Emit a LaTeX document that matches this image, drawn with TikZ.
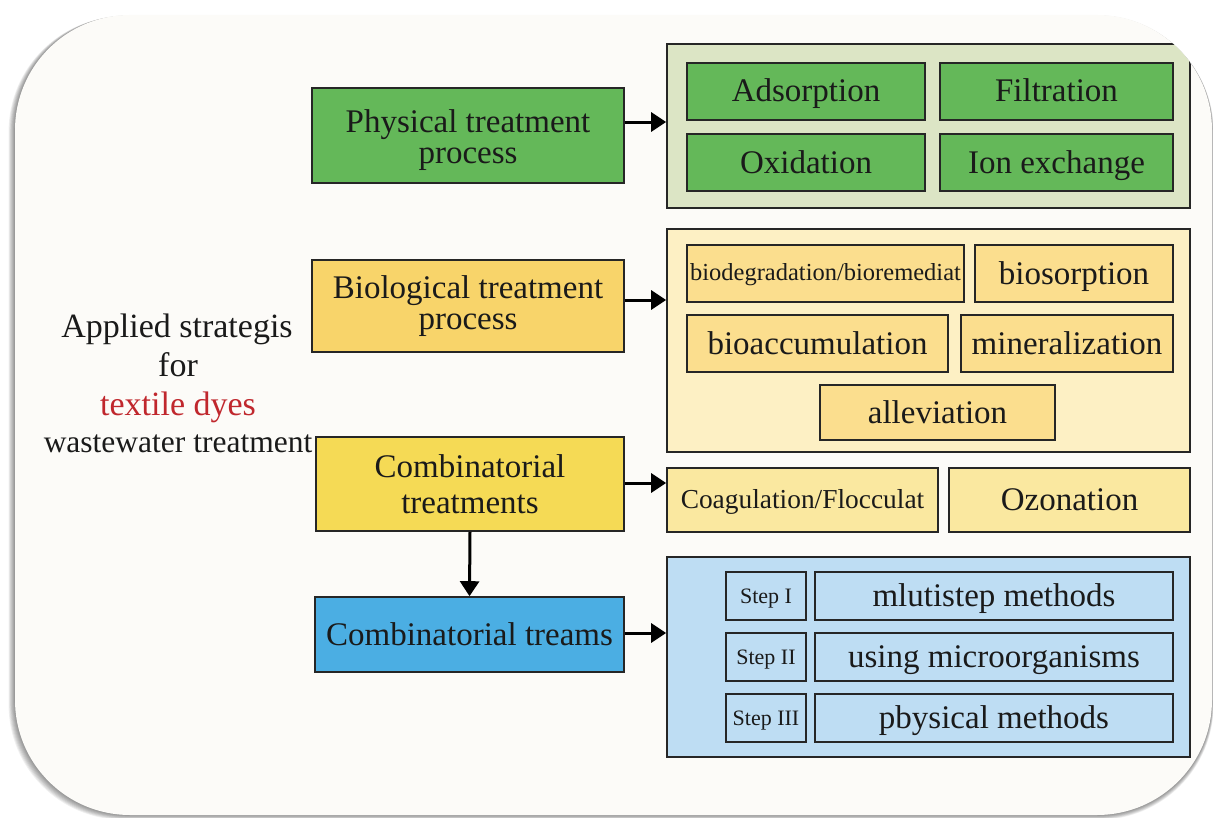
\documentclass[tikz,border=0pt]{standalone}
\usepackage{fontspec}
\setmainfont{Liberation Serif}
\usetikzlibrary{arrows.meta}
\definecolor{cardbg}{HTML}{FCFBF8}
\definecolor{grn}{HTML}{64B859}
\definecolor{grnpanel}{HTML}{DCE5C5}
\definecolor{biomain}{HTML}{F8D46A}
\definecolor{biopanel}{HTML}{FDF0C4}
\definecolor{bioinner}{HTML}{FBDE8E}
\definecolor{combmain}{HTML}{F5DA55}
\definecolor{coagfill}{HTML}{FAE8A0}
\definecolor{bluemain}{HTML}{4BAEE3}
\definecolor{bluepanel}{HTML}{BEDDF3}
\definecolor{dyered}{HTML}{C0272D}
\definecolor{ink}{HTML}{1A1A1A}
\newcommand\fsz[2]{\fontsize{#1bp}{#2bp}\selectfont}
\tikzset{
  bx/.style={draw=black!85, line width=1.6bp, inner sep=0pt, align=center, text=ink, font={\fsz{33}{31}}},
  one/.style={text height=24bp, text depth=3bp},
  panel/.style={draw=black!85, line width=1.6bp, inner sep=0pt},
  arr/.style={line width=3bp, -{Triangle[length=15bp,width=19bp]}},
  lbl/.style={anchor=base, inner sep=0pt, text=ink, font={\fsz{34}{38}}}
}
\begin{document}
\begin{tikzpicture}[x=1bp,y=-1bp]
\useasboundingbox (0,0) rectangle (1213,818);
\fill[white] (0,0) rectangle (1213,818);
% shadow
\foreach \d in {1,...,8}{
  \fill[black,opacity=0.06,rounded corners=115bp] ({15-\d*0.8},{15+\d*0.2}) rectangle ({1212+\d*0.2},{815+\d*0.6});
}
\fill[cardbg, rounded corners=115bp] (15,15) rectangle (1212,815);
\begin{scope}
\clip[rounded corners=115bp] (15,15) rectangle (1212,815);
% left title
\node[lbl] (l1) at (177,337) {Applied strategis};
\node[lbl] (l2) at (178,376) {for};
\node[lbl, text=dyered] (l3) at (178,415) {textile dyes};
\node[lbl, font={\fsz{31.5}{36}}] (l4) at (178,452) {wastewater treatment};
% main boxes
\node[bx, fill=grn, minimum width=312bp, minimum height=95bp] (phys) at (468,135.5) {\rule{0pt}{33bp}Physical treatment\\process};
\node[bx, fill=biomain, minimum width=312bp, minimum height=92bp] (bio) at (468,306) {Biological treatment\\process};
\node[bx, fill=combmain, minimum width=308bp, minimum height=94bp, font={\fsz{33}{36}}] (comb) at (470,484) {Combinatorial\\treatments};
\node[bx, one, fill=bluemain, minimum width=309bp, minimum height=75bp] (treams) at (469.5,634.5) {Combinatorial treams};
% physical panel
\node[panel, fill=grnpanel, minimum width=523bp, minimum height=164bp] (ppanel) at (928.5,126) {};
\node[bx, one, fill=grn, minimum width=238bp, minimum height=57bp] (adsorp) at (806,91.5) {Adsorption};
\node[bx, one, fill=grn, minimum width=233bp, minimum height=57bp] (filtr) at (1056.5,91.5) {Filtration};
\node[bx, one, fill=grn, minimum width=238bp, minimum height=57bp] (oxid) at (806,162.5) {Oxidation};
\node[bx, one, fill=grn, minimum width=233bp, minimum height=57bp] (ion) at (1056.5,162.5) {Ion exchange};
% biological panel
\node[panel, fill=biopanel, minimum width=523bp, minimum height=223bp] (bpanel) at (928.5,340.5) {};
\node[bx, fill=bioinner, minimum width=277bp, minimum height=57bp, font={\fsz{24.5}{26}}, text height=17bp, text depth=3bp] (biodeg) at (825.5,273.5) {biodegradation/bioremediat};
\node[bx, one, fill=bioinner, minimum width=198bp, minimum height=57bp] (biosorp) at (1074,273.5) {biosorption};
\node[bx, one, fill=bioinner, minimum width=261bp, minimum height=57bp] (bioacc) at (817.5,343.5) {bioaccumulation};
\node[bx, one, fill=bioinner, minimum width=212bp, minimum height=57bp] (miner) at (1067,343.5) {mineralization};
\node[bx, one, fill=bioinner, minimum width=235bp, minimum height=55bp] (allev) at (937.5,412.5) {alleviation};
% combinatorial boxes
\node[bx, fill=coagfill, minimum width=271bp, minimum height=64bp, font={\fsz{27.4}{30}}, text height=20bp, text depth=3bp] (coag) at (802.5,500) {Coagulation/Flocculat};
\node[bx, one, fill=coagfill, minimum width=241bp, minimum height=64bp] (ozon) at (1069.5,500) {Ozonation};
% blue panel
\node[panel, fill=bluepanel, minimum width=523bp, minimum height=200bp] (cpanel) at (928.5,657) {};
\node[bx, fill=bluepanel, minimum width=80bp, minimum height=48bp, font={\fsz{22}{24}}, text height=16bp, text depth=2bp] (s1) at (766,596) {Step I};
\node[bx, one, fill=bluepanel, minimum width=358bp, minimum height=48bp] (m1) at (994,596) {mlutistep methods};
\node[bx, fill=bluepanel, minimum width=80bp, minimum height=48bp, font={\fsz{22}{24}}, text height=16bp, text depth=2bp] (s2) at (766,657) {Step II};
\node[bx, one, fill=bluepanel, minimum width=358bp, minimum height=48bp] (m2) at (994,657) {using microorganisms};
\node[bx, fill=bluepanel, minimum width=80bp, minimum height=48bp, font={\fsz{22}{24}}, text height=16bp, text depth=2bp] (s3) at (766,718) {Step III};
\node[bx, one, fill=bluepanel, minimum width=358bp, minimum height=48bp] (m3) at (994,718) {pbysical methods};
% arrows
\draw[arr] (phys.east |- 0,122) -- (ppanel.west |- 0,122);
\draw[arr] (bio.east |- 0,300) -- (bpanel.west |- 0,300);
\draw[arr] (comb.east |- 0,483) -- (coag.west |- 0,483);
\draw[arr] (treams.east |- 0,633) -- (cpanel.west |- 0,633);
\draw[arr] (comb.south) -- (treams.north);
\end{scope}
\end{tikzpicture}
\end{document}
